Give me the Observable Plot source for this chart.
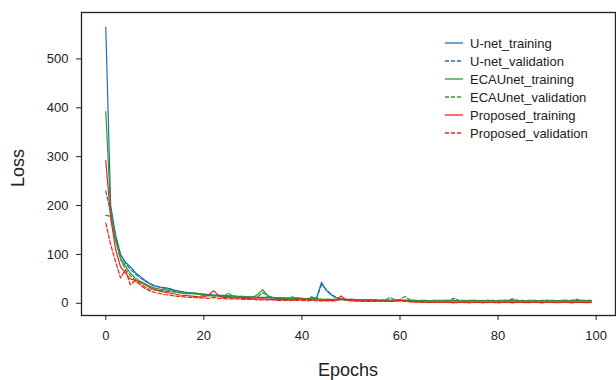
<!DOCTYPE html>
<html>
<head>
<meta charset="utf-8">
<script src="https://cdn.jsdelivr.net/npm/d3@7"></script>
<script src="https://cdn.jsdelivr.net/npm/@observablehq/plot@0.6"></script>
<style>
  html, body { margin: 0; padding: 0; background: #fff; }
  #chart { width: 616px; height: 380px; }
</style>
</head>
<body>
<div id="chart"></div>
<script>
// ---- data ----
const seriesNames = ["U-net_training", "U-net_validation", "ECAUnet_training", "ECAUnet_validation", "Proposed_training", "Proposed_validation"];
const seriesColors = ["#1f6eb0", "#1f6eb0", "#2e9a2e", "#2e9a2e", "#ee2219", "#ee2219"];
const seriesDash = ["none", "4,2", "none", "4,2", "none", "4,2"];
const xTicks = [0, 20, 40, 60, 80, 100];
const yTicks = [0, 100, 200, 300, 400, 500];

const unetTrain = [
  565, 200, 140, 100, 84, 75, 63, 55, 47, 40,
  35, 33, 32, 30, 27, 25, 23, 22, 21, 20,
  19, 18, 17, 16, 16, 15, 15, 14, 14, 13,
  13, 12, 12, 12, 11, 11, 11, 10, 10, 10,
  9, 9, 10, 11, 43, 26, 17, 11, 9, 8,
  8, 7, 7, 7, 7, 6, 6, 6, 6, 6,
  6, 6, 6, 5, 5, 5, 5, 5, 5, 5,
  5, 6, 5, 5, 5, 5, 5, 5, 5, 5,
  5, 5, 5, 5, 5, 5, 5, 5, 5, 5,
  5, 5, 5, 5, 5, 5, 5, 5, 5, 5
];
const unetVal = [
  230, 185, 138, 100, 82, 70, 60, 52, 45, 40,
  36, 33, 31, 29, 26, 24, 23, 21, 20, 19,
  18, 17, 16, 16, 15, 14, 14, 13, 13, 12,
  12, 12, 11, 11, 11, 10, 10, 10, 9, 9,
  9, 9, 13, 10, 38, 28, 18, 12, 9, 8,
  8, 8, 7, 7, 7, 7, 6, 7, 6, 6,
  6, 6, 6, 6, 5, 6, 5, 6, 5, 6,
  6, 10, 6, 5, 6, 6, 5, 6, 6, 5,
  6, 6, 6, 9, 6, 5, 6, 6, 5, 6,
  6, 6, 5, 6, 6, 6, 8, 6, 6, 6
];
const ecaTrain = [
  392, 190, 130, 92, 76, 62, 52, 45, 40, 35,
  31, 29, 28, 26, 24, 22, 21, 20, 19, 18,
  17, 16, 15, 15, 14, 14, 13, 13, 12, 12,
  12, 18, 28, 16, 12, 11, 11, 10, 10, 11,
  10, 9, 9, 9, 8, 8, 8, 8, 7, 7,
  7, 7, 7, 6, 6, 6, 6, 6, 6, 6,
  6, 6, 5, 5, 5, 5, 5, 5, 5, 5,
  5, 5, 5, 5, 5, 5, 5, 5, 5, 5,
  5, 5, 5, 5, 5, 5, 5, 5, 5, 5,
  5, 5, 5, 5, 5, 5, 5, 5, 5, 5
];
const ecaVal = [
  180, 178, 128, 90, 70, 57, 48, 42, 33, 28,
  27, 26, 25, 24, 23, 21, 20, 19, 22, 18,
  16, 15, 15, 14, 13, 21, 14, 13, 12, 13,
  12, 13, 22, 14, 12, 11, 10, 11, 13, 10,
  10, 9, 9, 10, 8, 8, 8, 7, 8, 7,
  7, 7, 7, 7, 6, 7, 6, 7, 12, 7,
  8, 14, 7, 6, 6, 6, 5, 6, 6, 6,
  6, 5, 6, 6, 5, 6, 6, 5, 6, 6,
  5, 6, 6, 5, 6, 6, 5, 6, 6, 5,
  6, 6, 5, 6, 6, 5, 6, 6, 5, 6
];
const propTrain = [
  292, 175, 110, 75, 62, 50, 47, 44, 38, 32,
  28, 25, 23, 21, 19, 17, 16, 15, 14, 13,
  13, 17, 26, 16, 12, 12, 11, 11, 10, 10,
  9, 9, 9, 8, 8, 8, 8, 8, 7, 8,
  9, 8, 7, 7, 6, 6, 6, 7, 15, 7,
  6, 5, 5, 5, 5, 5, 5, 4, 4, 5,
  6, 5, 4, 3, 3, 3, 2, 2, 2, 2,
  2, 2, 2, 2, 2, 2, 2, 2, 2, 2,
  2, 2, 2, 2, 2, 2, 2, 2, 2, 2,
  2, 2, 2, 2, 2, 2, 2, 2, 2, 2
];
const propVal = [
  164, 120, 85, 52, 68, 38, 46, 38, 30, 25,
  22, 20, 18, 17, 15, 14, 13, 12, 12, 11,
  11, 10, 12, 10, 10, 9, 9, 9, 8, 8,
  8, 7, 7, 7, 7, 6, 6, 6, 6, 6,
  6, 5, 6, 5, 5, 5, 5, 5, 10, 6,
  5, 5, 4, 4, 4, 4, 4, 4, 4, 4,
  5, 4, 3, 3, 2, 2, 2, 2, 2, 2,
  2, 1, 2, 2, 1, 2, 2, 1, 2, 2,
  1, 2, 2, 1, 2, 2, 1, 2, 2, 1,
  2, 2, 1, 2, 2, 1, 2, 2, 1, 2
];
const seriesValues = [unetTrain, unetVal, ecaTrain, ecaVal, propTrain, propVal];

// ---- build table ----
const rows = [];
seriesValues.forEach((vals, s) => {
  vals.forEach((v, i) => rows.push({epoch: i, loss: v, series: seriesNames[s]}));
});

const lineMarks = seriesNames.map((name, s) =>
  Plot.line(rows.filter(d => d.series === name), {
    x: "epoch", y: "loss",
    stroke: seriesColors[s],
    strokeWidth: 1.2,
    strokeDasharray: seriesDash[s] === "none" ? null : seriesDash[s],
    strokeLinejoin: "round"
  })
);

const chart = Plot.plot({
  width: 616,
  height: 380,
  marginLeft: 81,
  marginRight: 1,
  marginTop: 12,
  marginBottom: 65,
  style: {fontFamily: "'Liberation Sans', Arial, sans-serif", fontSize: "13px", color: "#222", background: "#fff"},
  x: {domain: [-4.95, 103.95]},
  y: {domain: [-25, 595]},
  marks: [
    ...lineMarks,
    Plot.frame({stroke: "#222", strokeWidth: 1.3}),
    Plot.axisX({ticks: xTicks, tickSize: 5, tickPadding: 10, label: null, stroke: "#222"}),
    Plot.axisY({ticks: yTicks, tickSize: 5, tickPadding: 8, label: null, stroke: "#222"})
  ]
});

const svg = d3.select(chart);
// axis titles
svg.append("text")
  .attr("x", 348).attr("y", 376)
  .attr("text-anchor", "middle")
  .style("font-size", "18px").attr("fill", "#222")
  .text("Epochs");
svg.append("text")
  .attr("transform", "translate(24,168) rotate(-90)")
  .attr("text-anchor", "middle")
  .style("font-size", "18px").attr("fill", "#222")
  .text("Loss");

// legend
const lg = svg.append("g").attr("text-anchor", "start");
seriesNames.forEach((name, i) => {
  const y = 43 + i * 18;
  lg.append("line")
    .attr("x1", 445).attr("x2", 463).attr("y1", y).attr("y2", y)
    .attr("stroke", seriesColors[i]).attr("stroke-width", 1.3)
    .attr("stroke-dasharray", seriesDash[i] === "none" ? null : seriesDash[i]);
  lg.append("text")
    .attr("x", 470).attr("y", y).attr("dy", "0.35em")
    .attr("text-anchor", "start")
    .style("font-size", "13px").attr("fill", "#222")
    .text(name);
});

document.getElementById("chart").appendChild(chart);
</script>
</body>
</html>
